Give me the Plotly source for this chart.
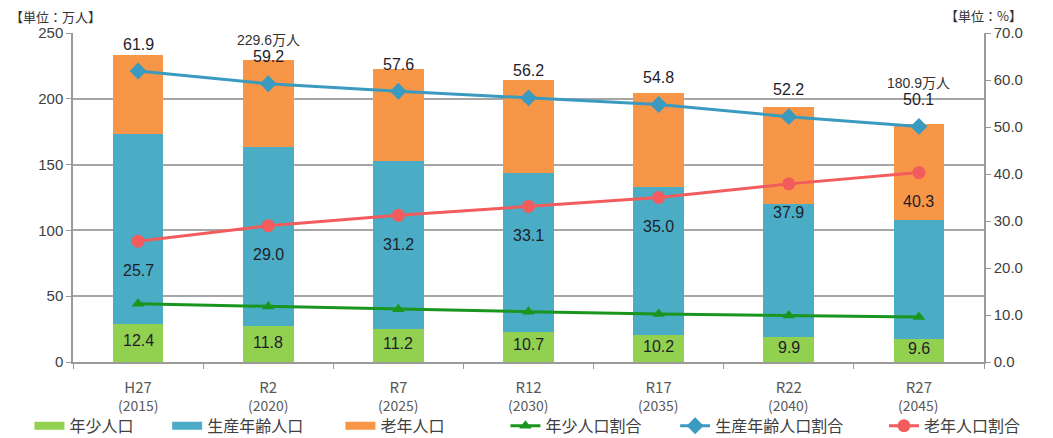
import plotly.graph_objects as go

eras = ["H27", "R2", "R7", "R12", "R17", "R22", "R27"]
years = ["(2015)", "(2020)", "(2025)", "(2030)", "(2035)", "(2040)", "(2045)"]
young = [28.9, 27.1, 24.9, 22.9, 20.8, 19.2, 17.4]
working = [144.2, 135.9, 128.2, 120.4, 112.0, 101.2, 90.6]
elderly = [59.9, 66.6, 69.4, 70.9, 71.5, 73.4, 72.9]
young_pct = [12.4, 11.8, 11.2, 10.7, 10.2, 9.9, 9.6]
working_pct = [61.9, 59.2, 57.6, 56.2, 54.8, 52.2, 50.1]
elderly_pct = [25.7, 29.0, 31.2, 33.1, 35.0, 37.9, 40.3]
total_labels = {1: "229.6万人", 6: "180.9万人"}

FONT = "Liberation Sans, Noto Sans CJK JP, sans-serif"
CJK = "Noto Sans CJK JP, sans-serif"
LBL = "#1e1e2a"
C_YOUNG, C_WORK, C_OLD = "#92D050", "#4BACC6", "#F79646"


def pad(n):
    return "\u00a0" * n


fig = go.Figure()
for vals, col, grp in [(young, C_YOUNG, "g1"), (working, C_WORK, "g2"), (elderly, C_OLD, "g3")]:
    fig.add_trace(go.Bar(x=eras, y=vals, marker_color=col, marker_line_width=0, width=0.39,
                         showlegend=False, legendgroup=grp))
# legend entries for the bar series (wide rectangular swatches)
for name, col, grp in [("年少人口" + pad(8), C_YOUNG, "g1"), ("生産年齢人口" + pad(9), C_WORK, "g2"),
                       ("老年人口", C_OLD, "g3")]:
    fig.add_trace(go.Scatter(x=[None], y=[None], mode="lines", name=name, legendgroup=grp,
                             line=dict(color=col, width=8), legend="legend"))

fig.add_trace(go.Scatter(x=eras, y=young_pct, name="年少人口割合" + pad(8), yaxis="y2",
                         mode="lines+markers", line=dict(color="#1A961E", width=3),
                         marker=dict(symbol="triangle-up", size=11, color="#1A961E"), legend="legend2"))
fig.add_trace(go.Scatter(x=eras, y=working_pct, name="生産年齢人口割合" + pad(10), yaxis="y2",
                         mode="lines+markers", line=dict(color="#3A9AC0", width=3),
                         marker=dict(symbol="diamond", size=13, color="#3A9AC0"), legend="legend2"))
fig.add_trace(go.Scatter(x=eras, y=elderly_pct, name="老年人口割合", yaxis="y2",
                         mode="lines+markers", line=dict(color="#F25C5C", width=3),
                         marker=dict(symbol="circle", size=13, color="#F25C5C"), legend="legend2"))

ann = []
for i, c in enumerate(eras):
    ann.append(dict(x=c, y=young[i] / 2, xref="x", yref="y", text=f"{young_pct[i]:.1f}",
                    showarrow=False, yshift=2, font=dict(size=16, color=LBL, family=FONT)))
    ann.append(dict(x=c, y=elderly_pct[i], xref="x", yref="y2", text=f"{elderly_pct[i]:.1f}",
                    showarrow=False, yshift=-29, font=dict(size=16, color=LBL, family=FONT)))
    ann.append(dict(x=c, y=working_pct[i], xref="x", yref="y2", text=f"{working_pct[i]:.1f}",
                    showarrow=False, yshift=27, font=dict(size=16, color=LBL, family=FONT)))
    if i in total_labels:
        ann.append(dict(x=c, y=working_pct[i], xref="x", yref="y2", text=total_labels[i],
                        showarrow=False, yshift=44, font=dict(size=14, color="#333333", family=FONT)))
    ann.append(dict(x=c, y=0, xref="x", yref="paper", yanchor="middle", text=years[i],
                    showarrow=False, yshift=-43, font=dict(size=14, color="#595959", family=CJK)))

ann.append(dict(x=-0.0714, y=1.051, xref="paper", yref="paper", xanchor="left", yanchor="middle",
                text="【単位：万人】", showarrow=False, font=dict(size=13, color="#333333", family=CJK)))
ann.append(dict(x=1.044, y=1.054, xref="paper", yref="paper", xanchor="right", yanchor="middle",
                text="【単位：%】", showarrow=False, font=dict(size=13, color="#333333", family=CJK)))

legend_common = dict(orientation="h", yanchor="middle", y=-0.194, xanchor="left",
                     font=dict(size=16, color="#404040", family=CJK), traceorder="normal",
                     bgcolor="rgba(0,0,0,0)", borderwidth=0)

fig.update_layout(
    width=1053, height=438,
    margin=dict(l=73, r=69, t=33, b=76, autoexpand=False),
    paper_bgcolor="white", plot_bgcolor="white",
    barmode="stack",
    font=dict(family=FONT, size=14, color="#404040"),
    xaxis=dict(type="category", showline=True, linecolor="#9a9a9a", linewidth=1.5,
               ticks="outside", tickson="boundaries", ticklen=5, tickcolor="#9a9a9a",
               ticklabelstandoff=11,
               tickfont=dict(size=15, color="#595959", family=CJK), showgrid=False),
    yaxis=dict(range=[0, 250], dtick=50, showgrid=True, gridcolor="#a6a6a6", gridwidth=1.5,
               showline=True, linecolor="#9a9a9a", linewidth=1.5, ticks="outside", ticklen=5,
               tickcolor="#9a9a9a", tickfont=dict(size=15, color="#404040"), zeroline=False),
    yaxis2=dict(range=[0, 70], dtick=10, tickformat=".1f", overlaying="y", side="right",
                showgrid=False, showline=True, linecolor="#9a9a9a", linewidth=1.5,
                ticks="outside", ticklen=5, tickcolor="#9a9a9a",
                tickfont=dict(size=15, color="#404040"), zeroline=False),
    legend=dict(x=-0.0478, **legend_common),
    legend2=dict(x=0.4747, **legend_common),
    annotations=ann,
    showlegend=True,
)

fig.write_html("out.html")
